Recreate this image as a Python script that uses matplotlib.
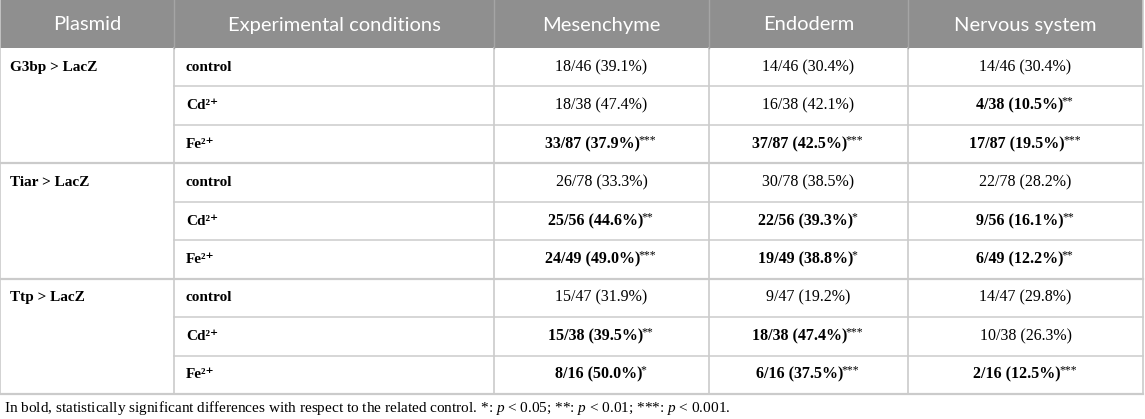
import matplotlib
matplotlib.use('Agg')
import matplotlib.pyplot as plt

plt.rcParams['mathtext.fontset'] = 'custom'
plt.rcParams['mathtext.rm'] = 'Liberation Serif'
plt.rcParams['mathtext.it'] = 'Liberation Serif:italic'

headers = ['Plasmid', 'Experimental conditions', 'Mesenchyme', 'Endoderm', 'Nervous system']
plasmids = ['G3bp > LacZ', 'Tiar > LacZ', 'Ttp > LacZ']
conditions = ['control', 'Cd\u00b2\u207a', 'Fe\u00b2\u207a']

# one entry per row: plasmid-major, condition-minor
mesenchyme = ['18/46 (39.1%)', '18/38 (47.4%)', '33/87 (37.9%)',
              '26/78 (33.3%)', '25/56 (44.6%)', '24/49 (49.0%)',
              '15/47 (31.9%)', '15/38 (39.5%)', '8/16 (50.0%)']
mesenchyme_sig = ['', '', '***', '', '**', '***', '', '**', '*']
endoderm = ['14/46 (30.4%)', '16/38 (42.1%)', '37/87 (42.5%)',
            '30/78 (38.5%)', '22/56 (39.3%)', '19/49 (38.8%)',
            '9/47 (19.2%)', '18/38 (47.4%)', '6/16 (37.5%)']
endoderm_sig = ['', '', '***', '', '*', '*', '', '***', '***']
nervous = ['14/46 (30.4%)', '4/38 (10.5%)', '17/87 (19.5%)',
           '22/78 (28.2%)', '9/56 (16.1%)', '6/49 (12.2%)',
           '14/47 (29.8%)', '10/38 (26.3%)', '2/16 (12.5%)']
nervous_sig = ['', '**', '***', '', '**', '**', '', '', '***']

footnote = ('In bold, statistically significant differences with respect to the related control. '
            '*: $p$ < 0.05; **: $p$ < 0.01; ***: $p$ < 0.001.')

W, H = 1145, 419
col_x = [0, 174, 494, 709, 908, 1143]
head_h = 48
row_h = (394 - head_h) / 9.0

fig = plt.figure(figsize=(W / 100, H / 100), dpi=100)
ax = fig.add_axes([0, 0, 1, 1])
ax.set_xlim(0, W)
ax.set_ylim(H, 0)
ax.axis('off')

serif = ['Liberation Serif', 'DejaVu Serif']
line_col = '#cbcbcb'

# header band
ax.add_patch(plt.Rectangle((0, 0), col_x[-1], head_h, color='#8f8f8f', lw=0))
for i, h in enumerate(headers):
    cx = (col_x[i] + col_x[i + 1]) / 2
    ax.text(cx, head_h / 2 + 1, h, ha='center', va='center', color='white',
            fontsize=14.5, family='Lato')

# grid lines
bottom = head_h + 9 * row_h
for r in range(1, 9):
    y = head_h + r * row_h
    x0 = col_x[0] if r % 3 == 0 else col_x[1]
    ax.plot([x0, col_x[-1]], [y, y], color=line_col, lw=1.6 if r % 3 == 0 else 1.1)
ax.plot([0, col_x[-1]], [bottom, bottom], color=line_col, lw=1.6)
for i, x in enumerate(col_x):
    ax.plot([x, x], [head_h if 0 < i < 5 else 0, bottom], color=line_col, lw=1.2)
for x in col_x[1:-1]:
    ax.plot([x, x], [0, head_h], color='#a5a5a5', lw=1.0)

fig.canvas.draw()
renderer = fig.canvas.get_renderer()


def cell_text(cx, cy, main, sig):
    weight = 'bold' if sig else 'normal'
    t = ax.text(0, cy, main, ha='left', va='center', fontsize=11.5,
                family=serif, weight=weight)
    w_main = t.get_window_extent(renderer).width
    w_sig = 0
    if sig:
        s = ax.text(0, cy - 4, sig, ha='left', va='center', fontsize=8.5, family=serif)
        w_sig = s.get_window_extent(renderer).width
    left = cx - (w_main + w_sig) / 2
    t.set_x(left)
    if sig:
        s.set_x(left + w_main - 1.5)


tissues = [(mesenchyme, mesenchyme_sig), (endoderm, endoderm_sig), (nervous, nervous_sig)]
for r in range(9):
    cy = head_h + (r + 0.5) * row_h
    if r % 3 == 0:
        ax.text(10, cy, plasmids[r // 3], ha='left', va='center', fontsize=11,
                family=serif, weight='bold')
    ax.text(col_x[1] + 12, cy, conditions[r % 3], ha='left', va='center',
            fontsize=11, family=serif, weight='bold')
    for j, (vals, sigs) in enumerate(tissues):
        cx = (col_x[j + 2] + col_x[j + 3]) / 2
        cell_text(cx, cy, vals[r], sigs[r])

ax.text(4, 408, footnote, ha='left', va='center', fontsize=11, family=serif)

fig.savefig('out.png', dpi=100, facecolor='white')
